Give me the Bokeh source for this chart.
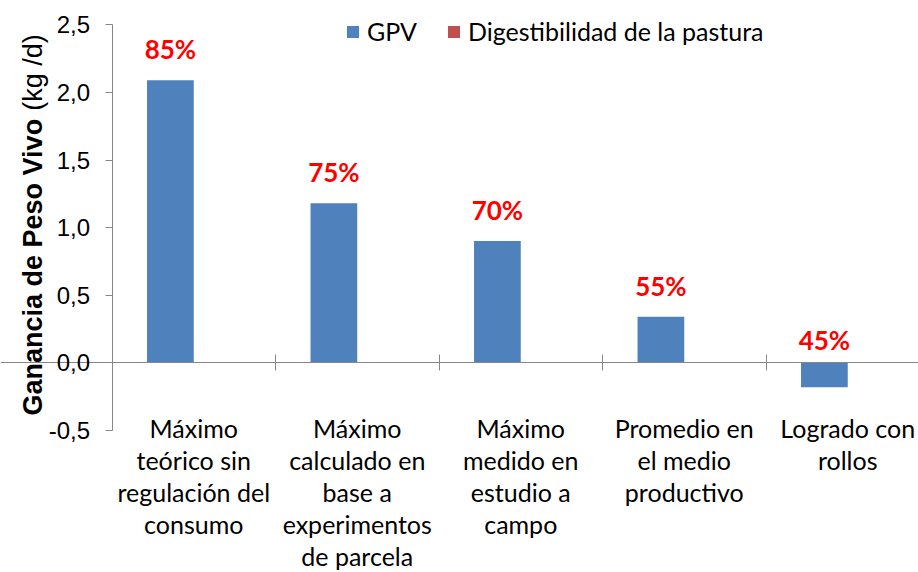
import math
from bokeh.plotting import figure
from bokeh.models import (Range1d, LinearAxis, FixedTicker, Legend, LegendItem, ColumnDataSource,
                          CustomJSTickFormatter)
from bokeh.core.properties import value
from bokeh.embed import file_html
from bokeh.resources import INLINE

# ---- data ----
categories = [
    "Máximo\nteórico sin\nregulación del\nconsumo",
    "Máximo\ncalculado en\nbase a\nexperimentos\nde parcela",
    "Máximo\nmedido en\nestudio a\ncampo",
    "Promedio en\nel medio\nproductivo",
    "Logrado con\nrollos",
]
gpv = [2.09, 1.18, 0.90, 0.34, -0.18]
digestibilidad = [85, 75, 70, 55, 45]
y_ticks = [-0.5, 0.0, 0.5, 1.0, 1.5, 2.0, 2.5]
y_tick_labels = ["-0,5", "0,0", "0,5", "1,0", "1,5", "2,0", "2,5"]
series_names = ["GPV", "Digestibilidad de la pastura"]
y_title_bold = "Ganancia de Peso Vivo"
y_title_unit = "(kg /d)"

# ---- layout geometry (frame covers whole figure) ----
W, H = 918, 572
PPU_Y = 135.2
Y25_PX = 24.3
y_max = 2.5 + Y25_PX / PPU_Y
y_min = 2.5 - (H - Y25_PX) / PPU_Y
CAT_PX = 163.5
AXIS_X_PX = 111.5
x_min = -0.5 - AXIS_X_PX / CAT_PX
x_max = -0.5 + (W - AXIS_X_PX) / CAT_PX


def ydata(py):
    return y_max - py / PPU_Y


def xdata(px):
    return x_min + px / CAT_PX


p = figure(width=W, height=H, x_range=Range1d(x_min, x_max), y_range=Range1d(y_min, y_max),
           output_backend="svg", toolbar_location=None, x_axis_type=None, y_axis_type=None,
           min_border_left=0, min_border_right=0, min_border_top=0, min_border_bottom=0)
p.grid.visible = False
p.outline_line_color = None

AX = "#868686"
ya = LinearAxis(fixed_location=-0.5, ticker=FixedTicker(ticks=y_ticks),
                major_label_overrides=dict(zip(y_ticks, y_tick_labels)),
                bounds=(-0.5, 2.5), axis_line_color=AX, major_tick_line_color=AX,
                major_tick_out=7, major_tick_in=0, minor_tick_out=0, minor_tick_in=0,
                major_label_standoff=15, major_label_text_font="Liberation Sans",
                major_label_text_font_size="24px", major_label_text_color="#000000")
p.add_layout(ya, "left")

xa = LinearAxis(fixed_location=0, ticker=FixedTicker(ticks=[i + 0.5 for i in range(len(categories) - 1)]),
                major_tick_in=8, major_tick_out=8, minor_tick_in=0, minor_tick_out=0,
                formatter=CustomJSTickFormatter(code="return ''"),
                axis_line_color=AX, major_tick_line_color=AX)
p.add_layout(xa, "below")

bw = 1 / 3.5
xs = [i - bw / 2 for i in range(len(categories))]
xs2 = [i + bw / 2 for i in range(len(categories))]
src = ColumnDataSource(dict(x=xs, top=gpv))
bars = p.vbar(x="x", top="top", bottom=0, width=bw, source=src, fill_color="#4F81BD", line_color=None)
dummy = p.vbar(x=xs2, top=[0] * len(categories), bottom=0, width=bw, fill_color="#C0504D", line_color=None)

label_y = [v + 0.23 if v > 0 else 0.17 for v in gpv]
p.text(x=xs, y=label_y, text=[f"{d}%" for d in digestibilidad], text_color="#FF0000",
       text_font=value("Lato"), text_font_style="bold", text_font_size="26px",
       text_align="center", text_baseline="middle")

p.text(x=list(range(len(categories))), y=[ydata(412)] * len(categories), text=categories,
       text_align="center", text_baseline="top", text_font=value("Lato"), text_font_size="25px",
       text_line_height=1.07, text_color="#000000")

# y axis title: bold part + regular unit
TS = 27
bold_len = 11.005 * TS
space = 0.278 * TS
p.text(x=[xdata(32)], y=[ydata(415)], text=[y_title_bold], angle=math.pi / 2,
       text_align="left", text_baseline="alphabetic", text_font=value("Liberation Sans"),
       text_font_style="bold", text_font_size=f"{TS}px", text_color="#000000")
p.text(x=[xdata(32)], y=[ydata(415 - bold_len - space)], text=[y_title_unit], angle=math.pi / 2,
       text_align="left", text_baseline="alphabetic", text_font=value("Liberation Sans"),
       text_font_size=f"{TS}px", text_color="#000000")

legend = Legend(items=[LegendItem(label=series_names[0], renderers=[bars]),
                       LegendItem(label=series_names[1], renderers=[dummy])],
                orientation="horizontal", location=(345, 526), glyph_width=15, glyph_height=15,
                label_standoff=7, spacing=29, padding=0, margin=0, border_line_color=None,
                background_fill_alpha=0, label_text_font="Lato", label_text_font_size="25px",
                label_text_color="#000000")
p.add_layout(legend)

open("out.html", "w").write(file_html(p, INLINE))
